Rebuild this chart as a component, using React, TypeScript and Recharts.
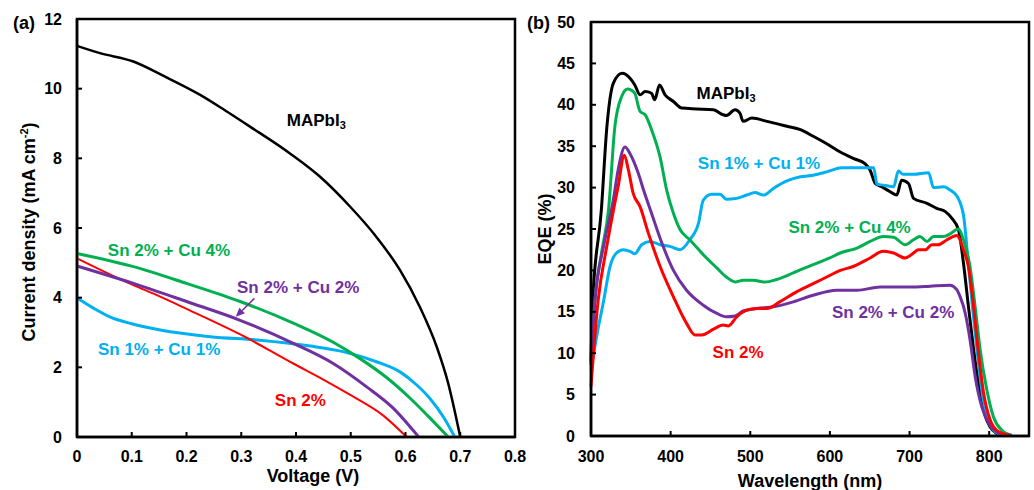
import React from 'react';
import { LineChart, Line, XAxis, YAxis, ReferenceArea, ReferenceDot, ReferenceLine } from 'recharts';

const FONT = '"Liberation Sans", Arial, sans-serif';

const BLACK = '#000000';
const GREEN = '#00B050';
const PURPLE = '#7030A0';
const CYAN = '#00B0F0';
const RED = '#FF0000';

// (a) J-V curves: [voltage (V), current density (mA cm-2)]
const jvMapbi3: [number, number][] = [
  [0, 11.23], [0.042, 11.02], [0.103, 10.78], [0.16, 10.35], [0.225, 9.82], [0.27, 9.38],
  [0.316, 8.91], [0.389, 8.14], [0.444, 7.47], [0.499, 6.61], [0.544, 5.8], [0.59, 4.79],
  [0.626, 3.74], [0.657, 2.59], [0.678, 1.54], [0.7, 0],
];
const jvSn2Cu4: [number, number][] = [
  [0, 5.27], [0.103, 4.89], [0.2, 4.41], [0.298, 3.89], [0.395, 3.27], [0.468, 2.72],
  [0.517, 2.25], [0.566, 1.7], [0.608, 1.12], [0.64, 0.62], [0.678, 0],
];
const jvSn2: [number, number][] = [
  [0, 5.13], [0.1, 4.38], [0.152, 4.03], [0.2, 3.68], [0.3, 2.93], [0.395, 2.11],
  [0.45, 1.65], [0.5, 1.2], [0.559, 0.62], [0.602, 0],
];
const jvSn2Cu2: [number, number][] = [
  [0, 4.91], [0.103, 4.41], [0.2, 3.89], [0.298, 3.35], [0.395, 2.69], [0.468, 2.11],
  [0.529, 1.44], [0.578, 0.82], [0.608, 0.3], [0.624, 0],
];
const jvSn1Cu1: [number, number][] = [
  [0, 3.99], [0.03, 3.7], [0.06, 3.45], [0.1, 3.25], [0.152, 3.07], [0.243, 2.88],
  [0.334, 2.78], [0.426, 2.61], [0.486, 2.45], [0.547, 2.16], [0.59, 1.87], [0.62, 1.5],
  [0.645, 1.1], [0.669, 0.58], [0.69, 0],
];

// (b) EQE spectra: [wavelength (nm), EQE (%)]
const eqeMapbi3: [number, number][] = [
  [300, 9], [302, 16], [313, 27.3], [320, 37.4], [328, 42.6], [339, 43.8], [349, 43.2],
  [355, 42.4], [361.6, 41.2], [368, 41.6], [376, 41.4], [380, 40.6], [386, 42.4], [393, 41.2],
  [403.5, 40.4], [414, 39.6], [433, 39.5], [453.7, 39.4], [466, 38.8], [470, 38.7], [481, 39.4],
  [487, 39.0], [491, 38.0], [502, 38.4], [521, 38.0], [546, 37.4], [563, 37.0], [579, 36.2],
  [596, 35.3], [613, 34.3], [630, 33.5], [644, 32.9], [650.5, 32.1], [657, 30.5], [665, 30.1],
  [675.6, 29.5], [684, 29.1], [690, 30.9], [698.7, 30.5], [705, 28.7], [722, 28.1], [734, 27.5],
  [745, 27.1], [753, 26.3], [761.5, 24.9], [767.7, 20.9], [774, 15.6], [780, 10.8],
  [786.6, 6.4], [793, 3.1], [801, 1.1], [809.7, 0.3], [816, 0.1],
];
const eqeSn1Cu1: [number, number][] = [
  [300, 8], [308, 12.5], [316, 16.4], [324, 20.5], [332, 22.1], [340.6, 22.5], [349, 22.3],
  [355, 22.0], [363.6, 23.1], [374, 23.5], [386.7, 23.1], [399, 22.9], [412, 22.5], [424, 23.7],
  [435, 25.7], [441, 28.5], [451.6, 29.2], [462, 29.2], [470, 28.6], [483, 28.7], [495.6, 29.1],
  [506, 29.4], [516.5, 29.1], [529, 29.9], [546, 30.8], [563, 31.3], [579, 31.5], [596, 31.9],
  [615, 32.4], [634, 32.4], [655, 32.4], [659, 30.4], [667, 30.3], [680, 30.1], [686, 32.0],
  [692, 31.6], [705, 31.6], [724, 31.8], [730, 30.0], [743, 30.1], [751, 29.7], [760, 28.9],
  [768, 26.5], [773, 21.7], [779, 15.6], [785.6, 9.6], [792, 4.7], [799, 1.9], [807.5, 0.5],
  [818, 0.1],
];
const eqeSn2Cu4: [number, number][] = [
  [300, 9], [305, 16.4], [313, 22], [322, 27.3], [330, 37.4], [338.5, 41.0], [346, 41.9],
  [355, 41.4], [359.5, 39.8], [361.6, 39.2], [368, 38.8], [376, 37.0], [386.7, 33.7], [395, 29.7],
  [403.5, 26.9], [412, 24.9], [424, 23.7], [441, 21.9], [458, 20.3], [470, 19.2], [481, 18.6],
  [491, 18.8], [504, 18.8], [518.6, 18.6], [533, 18.9], [554, 19.7], [579, 20.7], [600, 21.5],
  [613, 22.1], [634, 22.7], [650.5, 23.5], [667, 24.1], [680, 24.0], [694.5, 23.1], [705, 23.7],
  [713, 24.1], [722, 23.5], [730, 24.1], [743, 24.1], [751, 24.4], [761, 25.0], [767.7, 23.7],
  [776, 20.4], [782.4, 15.6], [788.7, 10.4], [797, 5.6], [805.4, 2.3], [816, 0.7], [828.5, 0.1],
];
const eqeSn2Cu2: [number, number][] = [
  [300, 8.6], [305, 16.4], [316, 23], [328, 28.5], [334, 32.1], [342.7, 34.9], [349, 34.1],
  [359.5, 31.7], [366, 29.7], [376, 26.9], [389, 23.3], [403.5, 20.0], [420, 17.6], [441, 15.8],
  [458, 14.8], [470, 14.4], [481, 14.5], [491, 15.1], [508, 15.4], [529, 15.6], [554, 16.2],
  [579, 17.0], [608.6, 17.6], [634, 17.6], [663, 18.0], [688, 18.0], [705, 18.0], [726, 18.1],
  [751, 18.2], [759, 17.7], [763.6, 16.8], [770, 14.8], [776, 11.6], [782.4, 7.2], [790.8, 3.5],
  [801, 1.3], [813.8, 0.3], [828.5, 0.05],
];
const eqeSn2: [number, number][] = [
  [300, 6], [309, 16.4], [320, 23], [329, 27.7], [334, 30.1], [341.9, 33.9], [347, 32.1],
  [353, 29.3], [361.6, 27.7], [372, 24.5], [386.7, 20.5], [403.5, 16.8], [420, 13.6],
  [430.7, 12.2], [439, 12.2], [453.7, 12.9], [466, 13.4], [472.5, 13.3], [483, 14.4],
  [495.6, 15.2], [508, 15.4], [521, 15.4], [537, 16.2], [558, 17.4], [579, 18.4], [596, 19.2],
  [613, 20.0], [630, 20.5], [650.5, 21.5], [667, 22.3], [680, 22.1], [694.5, 21.5], [705, 22.1],
  [711, 22.5], [720, 22.5], [728, 23.1], [736, 23.1], [747, 23.7], [759.4, 24.2], [767.7, 22.5],
  [774, 20.4], [780, 16], [786, 10.5], [793, 5.2], [801, 2], [812, 0.5], [825, 0.1],
];

const voltageTicks = [0, 0.1, 0.2, 0.3, 0.4, 0.5, 0.6, 0.7, 0.8];
const currentTicks = [0, 2, 4, 6, 8, 10, 12];
const wavelengthTicks = [300, 400, 500, 600, 700, 800];
const eqeTicks = [0, 5, 10, 15, 20, 25, 30, 35, 40, 45, 50];

// curve labels: [text, subscript, x, y, colour]
const jvNotes: [string, string, number, number, string][] = [
  ['MAPbI', '3', 0.437, 9.1, BLACK],
  ['Sn 2% + Cu 4%', '', 0.168, 5.37, GREEN],
  ['Sn 2% + Cu 2%', '', 0.404, 4.31, PURPLE],
  ['Sn 1% + Cu 1%', '', 0.15, 2.53, CYAN],
  ['Sn 2%', '', 0.408, 1.06, RED],
];
const eqeNotes: [string, string, number, number, string][] = [
  ['MAPbI', '3', 469.6, 41.4, BLACK],
  ['Sn 1% + Cu 1%', '', 511, 33.0, CYAN],
  ['Sn 2% + Cu 4%', '', 624.7, 25.2, GREEN],
  ['Sn 2% + Cu 2%', '', 679.4, 15.0, PURPLE],
  ['Sn 2%', '', 484.7, 10.1, RED],
];
// arrow from the "Sn 2% + Cu 2%" label to its curve
const arrowFrom = { x: 0.324, y: 3.98 };
const arrowTo = { x: 0.29, y: 3.45 };

const toPts = (arr: [number, number][]) => arr.map(([x, y]) => ({ x, y }));

const tickStyle = { fill: '#000', fontSize: 16, fontWeight: 'bold', fontFamily: FONT };
const axisStyle = { stroke: '#000', strokeWidth: 2.5 };

const noteLabel = (text: string, sub: string, color: string) => (props: any) => {
  const vb = props.viewBox;
  const cx = vb.x + (vb.width || 0) / 2;
  const cy = vb.y + (vb.height || 0) / 2;
  return (
    <text x={cx} y={cy + 6} textAnchor="middle" fill={color} fontSize={17} fontWeight="bold" fontFamily={FONT}>
      {text}
      {sub && (
        <tspan fontSize={11} dy={3}>
          {sub}
        </tspan>
      )}
    </text>
  );
};

const arrowShape = (props: any) => {
  const { x1, y1, x2, y2 } = props;
  const ang = Math.atan2(y2 - y1, x2 - x1);
  const len = 9;
  const w = 4;
  const bx = x2 - len * Math.cos(ang);
  const by = y2 - len * Math.sin(ang);
  const px = -Math.sin(ang) * w;
  const py = Math.cos(ang) * w;
  return (
    <g>
      <line x1={x1} y1={y1} x2={bx} y2={by} stroke={PURPLE} strokeWidth={1.5} />
      <polygon points={`${x2},${y2} ${bx + px},${by + py} ${bx - px},${by - py}`} fill={PURPLE} />
    </g>
  );
};

const JVChart = () => (
  <LineChart width={545} height={490} margin={{ top: 19, right: 30, bottom: 0, left: 0 }}>
    <XAxis
      type="number"
      dataKey="x"
      domain={[0, 0.8]}
      ticks={voltageTicks}
      interval={0}
      height={53}
      tick={tickStyle}
      tickSize={-5}
      tickMargin={19}
      tickLine={{ stroke: '#000', strokeWidth: 2 }}
      axisLine={axisStyle}
      label={() => (
        <text x={313} y={482} textAnchor="middle" fontSize={18} fontWeight="bold" fontFamily={FONT} fill="#000">
          Voltage (V)
        </text>
      )}
    />
    <YAxis
      type="number"
      domain={[0, 12]}
      ticks={currentTicks}
      interval={0}
      width={77}
      tick={tickStyle}
      tickSize={-5}
      tickMargin={20}
      tickLine={{ stroke: '#000', strokeWidth: 2 }}
      axisLine={axisStyle}
      label={() => (
        <g>
          <text x={13} y={29} fontSize={18} fontWeight="bold" fontFamily={FONT} fill="#000">
            (a)
          </text>
          <text
            x={34.5}
            y={232}
            transform="rotate(-90, 34.5, 232)"
            textAnchor="middle"
            fontSize={18}
            fontWeight="bold"
            fontFamily={FONT}
            fill="#000"
          >
            Current density (mA cm
            <tspan fontSize={11} dy={-7}>
              -2
            </tspan>
            <tspan dy={7}>)</tspan>
          </text>
        </g>
      )}
    />
    <ReferenceArea x1={0} x2={0.8} y1={0} y2={12} fill="none" stroke="#000" strokeWidth={2.5} />
    <Line data={toPts(jvMapbi3)} dataKey="y" type="monotone" stroke={BLACK} strokeWidth={2.5} dot={false} isAnimationActive={false} />
    <Line data={toPts(jvSn1Cu1)} dataKey="y" type="monotone" stroke={CYAN} strokeWidth={3} dot={false} isAnimationActive={false} />
    <Line data={toPts(jvSn2Cu4)} dataKey="y" type="monotone" stroke={GREEN} strokeWidth={3} dot={false} isAnimationActive={false} />
    <Line data={toPts(jvSn2)} dataKey="y" type="monotone" stroke={RED} strokeWidth={2} dot={false} isAnimationActive={false} />
    <Line data={toPts(jvSn2Cu2)} dataKey="y" type="monotone" stroke={PURPLE} strokeWidth={3} dot={false} isAnimationActive={false} />
    {jvNotes.map(([t, s, x, y, c]) => (
      <ReferenceDot key={t + c} x={x} y={y} r={0} fill="none" stroke="none" label={noteLabel(t, s, c)} />
    ))}
    <ReferenceLine segment={[arrowFrom, arrowTo]} shape={arrowShape} />
  </LineChart>
);

const EQEChart = () => (
  <LineChart width={514} height={490} margin={{ top: 22, right: 5, bottom: 0, left: 0 }}>
    <XAxis
      type="number"
      dataKey="x"
      domain={[300, 850]}
      ticks={wavelengthTicks}
      interval={0}
      height={54}
      tick={tickStyle}
      tickSize={-5}
      tickMargin={20}
      tickLine={{ stroke: '#000', strokeWidth: 2 }}
      axisLine={axisStyle}
      label={() => (
        <text x={290} y={487} textAnchor="middle" fontSize={18} fontWeight="bold" fontFamily={FONT} fill="#000">
          Wavelength (nm)
        </text>
      )}
    />
    <YAxis
      type="number"
      domain={[0, 50]}
      ticks={eqeTicks}
      interval={0}
      width={71}
      tick={tickStyle}
      tickSize={-5}
      tickMargin={21}
      tickLine={{ stroke: '#000', strokeWidth: 2 }}
      axisLine={axisStyle}
      label={() => (
        <g>
          <text x={7} y={29} fontSize={18} fontWeight="bold" fontFamily={FONT} fill="#000">
            (b)
          </text>
          <text
            x={30.7}
            y={229}
            transform="rotate(-90, 30.7, 229)"
            textAnchor="middle"
            fontSize={18}
            fontWeight="bold"
            fontFamily={FONT}
            fill="#000"
          >
            EQE (%)
          </text>
        </g>
      )}
    />
    <ReferenceArea x1={300} x2={850} y1={0} y2={50} fill="none" stroke="#000" strokeWidth={2.5} />
    <Line data={toPts(eqeMapbi3)} dataKey="y" type="monotone" stroke={BLACK} strokeWidth={3} dot={false} isAnimationActive={false} />
    <Line data={toPts(eqeSn1Cu1)} dataKey="y" type="monotone" stroke={CYAN} strokeWidth={3} dot={false} isAnimationActive={false} />
    <Line data={toPts(eqeSn2Cu4)} dataKey="y" type="monotone" stroke={GREEN} strokeWidth={3} dot={false} isAnimationActive={false} />
    <Line data={toPts(eqeSn2Cu2)} dataKey="y" type="monotone" stroke={PURPLE} strokeWidth={3} dot={false} isAnimationActive={false} />
    <Line data={toPts(eqeSn2)} dataKey="y" type="monotone" stroke={RED} strokeWidth={3} dot={false} isAnimationActive={false} />
    {eqeNotes.map(([t, s, x, y, c]) => (
      <ReferenceDot key={t + c} x={x} y={y} r={0} fill="none" stroke="none" label={noteLabel(t, s, c)} />
    ))}
  </LineChart>
);

export default function App() {
  return (
    <div style={{ position: 'absolute', left: 0, top: 0, width: 1034, height: 490, background: '#fff' }}>
      <div style={{ position: 'absolute', left: 0, top: 0 }}>
        <JVChart />
      </div>
      <div style={{ position: 'absolute', left: 520, top: 0 }}>
        <EQEChart />
      </div>
    </div>
  );
}
